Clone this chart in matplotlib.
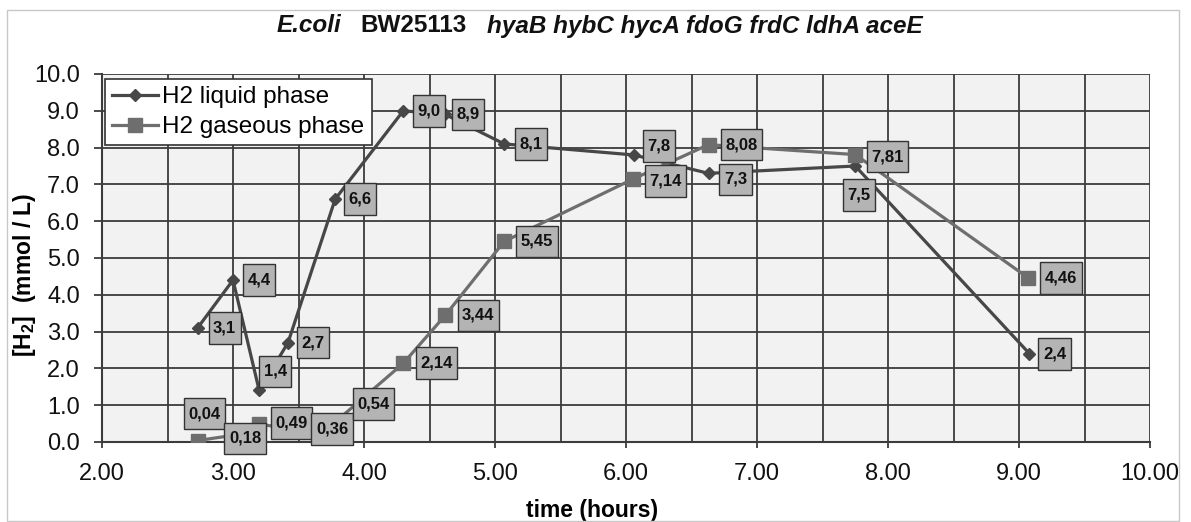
import matplotlib
matplotlib.use("Agg")
import matplotlib.pyplot as plt
from matplotlib.ticker import MultipleLocator, FormatStrFormatter
from matplotlib.patches import Rectangle
from matplotlib.path import Path

plt.rcParams["mathtext.fontset"] = "custom"
plt.rcParams["mathtext.rm"] = "Liberation Sans"
plt.rcParams["mathtext.bf"] = "Liberation Sans:bold"

# ---- data ----
time_liquid = [2.73, 3.00, 3.20, 3.42, 3.78, 4.30, 4.62, 5.07, 6.06, 6.63, 7.75, 9.08]
h2_liquid = [3.1, 4.4, 1.4, 2.7, 6.6, 9.0, 8.9, 8.1, 7.8, 7.3, 7.5, 2.4]
labels_liquid = ["3,1", "4,4", "1,4", "2,7", "6,6", "9,0", "8,9", "8,1", "7,8", "7,3", "7,5", "2,4"]

time_gas = [2.73, 3.00, 3.20, 3.42, 3.78, 4.30, 4.62, 5.07, 6.05, 6.63, 7.75, 9.07]
h2_gas = [0.04, 0.18, 0.49, 0.36, 0.54, 2.14, 3.44, 5.45, 7.14, 8.08, 7.81, 4.46]
labels_gas = ["0,04", "0,18", "0,49", "0,36", "0,54", "2,14", "3,44", "5,45", "7,14", "8,08", "7,81", "4,46"]

series_names = ["H2 liquid phase", "H2 gaseous phase"]

# label offsets in pixels (dx, dy with +dy = up)
off_liquid = [(27, 0), (26, 0), (16, 19), (25, 0), (25, 0), (26, 0), (23, 0),
              (27, 0), (25, 9), (27, -6), (4, -29), (25, 0)]
off_gas = [(7, 27), (12, -3), (32, 1), (44, 0), (38, 18), (33, 0), (33, 0),
           (33, 0), (33, -2), (33, 0), (32, -2), (33, 0)]


def tall_box(x0, y0, width, height, mutation_size):
    px = 0.27 * mutation_size
    py = 0.5 * mutation_size
    x1, y1 = x0 - px, y0 - py
    x2, y2 = x0 + width + px, y0 + height + py
    return Path([(x1, y1), (x2, y1), (x2, y2), (x1, y2), (x1, y1)], closed=True)


W, H = 1191, 522
fig = plt.figure(figsize=(W / 100, H / 100), dpi=100)
fig.patch.set_facecolor("white")
fig.patches.append(Rectangle((7 / W, 1 / H), 1172 / W, 511 / H, transform=fig.transFigure,
                             fill=False, edgecolor="#c8c8c8", linewidth=1.0))

ax = fig.add_axes([102 / W, 1 - 442 / H, 1048 / W, 368 / H])
ax.set_facecolor("#f2f2f2")

c_liq = "#474747"
c_gas = "#6e6e6e"

ax.plot(time_liquid, h2_liquid, color=c_liq, linewidth=2.3, marker="D", markersize=6.5,
        markerfacecolor=c_liq, markeredgecolor=c_liq, label=series_names[0], zorder=3)
ax.plot(time_gas, h2_gas, color=c_gas, linewidth=2.3, marker="s", markersize=10,
        markerfacecolor=c_gas, markeredgecolor=c_gas, label=series_names[1], zorder=3)

bbox = dict(boxstyle=tall_box, facecolor="#b4b4b4", edgecolor="#333333", linewidth=1.0)
for xs, ys, labs, offs in [(time_liquid, h2_liquid, labels_liquid, off_liquid),
                           (time_gas, h2_gas, labels_gas, off_gas)]:
    for x, y, t, (dx, dy) in zip(xs, ys, labs, offs):
        ax.annotate(t, (x, y), xytext=(dx, dy), textcoords="offset pixels",
                    ha="center", va="center", fontsize=12, fontweight="bold",
                    family="Liberation Sans", color="#111111", bbox=bbox, zorder=5)

ax.set_xlim(2, 10)
ax.set_ylim(0, 10)
ax.xaxis.set_major_locator(MultipleLocator(1))
ax.xaxis.set_minor_locator(MultipleLocator(0.5))
ax.yaxis.set_major_locator(MultipleLocator(1))
ax.xaxis.set_major_formatter(FormatStrFormatter("%.2f"))
ax.yaxis.set_major_formatter(FormatStrFormatter("%.1f"))
ax.grid(which="both", color="#3c3c3c", linewidth=1.3, zorder=1)
ax.set_axisbelow(True)
for s in ax.spines.values():
    s.set_visible(False)
for side in ("left", "bottom"):
    ax.spines[side].set_visible(True)
    ax.spines[side].set_color("#3c3c3c")
    ax.spines[side].set_linewidth(1.5)

ax.tick_params(axis="y", which="major", length=6, width=1.3, color="#3c3c3c", pad=10)
ax.tick_params(axis="x", which="major", length=4, width=1.3, color="#3c3c3c", pad=11)
ax.tick_params(axis="x", which="minor", length=0)
for lab in ax.get_xticklabels() + ax.get_yticklabels():
    lab.set_fontfamily("Liberation Sans")
    lab.set_fontsize(17)
    lab.set_color("#111111")

ax.set_xlabel("time (hours)", fontsize=16.5, fontweight="bold", family="Liberation Sans",
              va="center", ha="center")
ax.xaxis.set_label_coords((592 - 102) / 1048, (442 - 511) / 368)
ax.set_ylabel(r"[H$_\mathbf{2}$]  (mmol / L)", fontsize=16.5, fontweight="bold",
              family="Liberation Sans", va="center", ha="center")
ax.yaxis.set_label_coords((25 - 102) / 1048, (442 - 275) / 368)

leg = ax.legend(loc="upper left", bbox_to_anchor=(3 / 1048, 1 - 5 / 368),
                prop=dict(family="Liberation Sans", size=17.5), frameon=True, fancybox=False,
                handlelength=1.9, handletextpad=0.15, borderpad=0.3, labelspacing=0.32,
                borderaxespad=0.0)
leg.get_frame().set_edgecolor("#333333")
leg.get_frame().set_linewidth(1.2)
leg.get_frame().set_facecolor("white")
leg.get_frame().set_alpha(1)

# title with mixed styles
ty = 1 - 26 / H
tkw = dict(fontsize=17.5, fontweight="bold", family="Liberation Sans", va="center", color="#111111")
fig.text(277 / W, ty, "E.coli", fontstyle="italic", ha="left", **tkw)
fig.text(360 / W, ty, "BW25113", ha="left", **tkw)
fig.text(487 / W, ty, "hyaB hybC hycA fdoG frdC ldhA aceE", fontstyle="italic", ha="left", **tkw)

fig.savefig("out.png", dpi=100)
